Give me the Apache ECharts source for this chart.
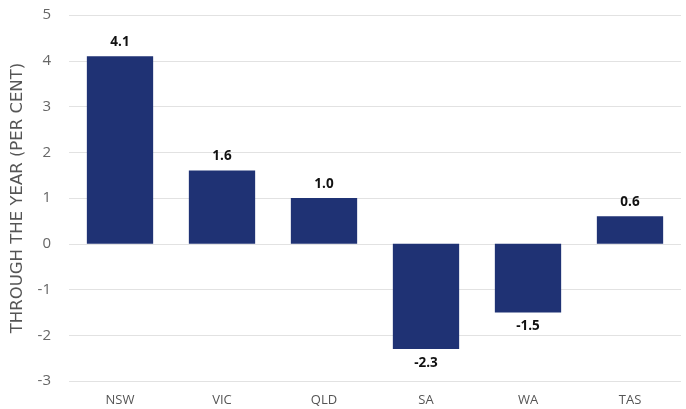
<!DOCTYPE html>
<html><head><meta charset="utf-8">
<script src="https://cdn.jsdelivr.net/npm/echarts@6/dist/echarts.min.js"></script>
<style>html,body{margin:0;padding:0;background:#fff}#c{width:686px;height:409px}</style>
</head><body><div id="c"></div>
<script>
const categories = ['NSW','VIC','QLD','SA','WA','TAS'];
const values = [4.1, 1.6, 1.0, -2.3, -1.5, 0.6];
const yTicks = [-3,-2,-1,0,1,2,3,4,5];
const chart = echarts.init(document.getElementById('c'));
chart.setOption({
  animation:false,
  grid:{left:69,right:5,top:15,bottom:28},
  xAxis:{type:'category',data:categories,
    axisLine:{show:false},axisTick:{show:false},
    axisLabel:{color:'#555',fontSize:13,fontFamily:'Open Sans',margin:13},
    position:'bottom'},
  yAxis:{type:'value',min:yTicks[0],max:yTicks[yTicks.length-1],interval:1,
    name:'THROUGH THE YEAR (PER CENT)',nameLocation:'middle',nameGap:40,
    nameTextStyle:{color:'#555',fontSize:16.5,fontFamily:'DejaVu Sans'},
    axisLabel:{color:'#666',fontSize:15,fontFamily:'Open Sans',margin:18},
    splitLine:{lineStyle:{color:'#e2e2e2',width:1}},
    axisLine:{show:false},axisTick:{show:false}},
  series:[{type:'bar',data:values,barWidth:'65%',
    itemStyle:{color:'#1F3274'},
    label:{show:true,position:'outside',formatter:p=>p.value.toFixed(1),
      color:'#111',fontWeight:'bold',fontSize:13.5,fontFamily:'Open Sans',distance:7}}]
});
</script></body></html>
